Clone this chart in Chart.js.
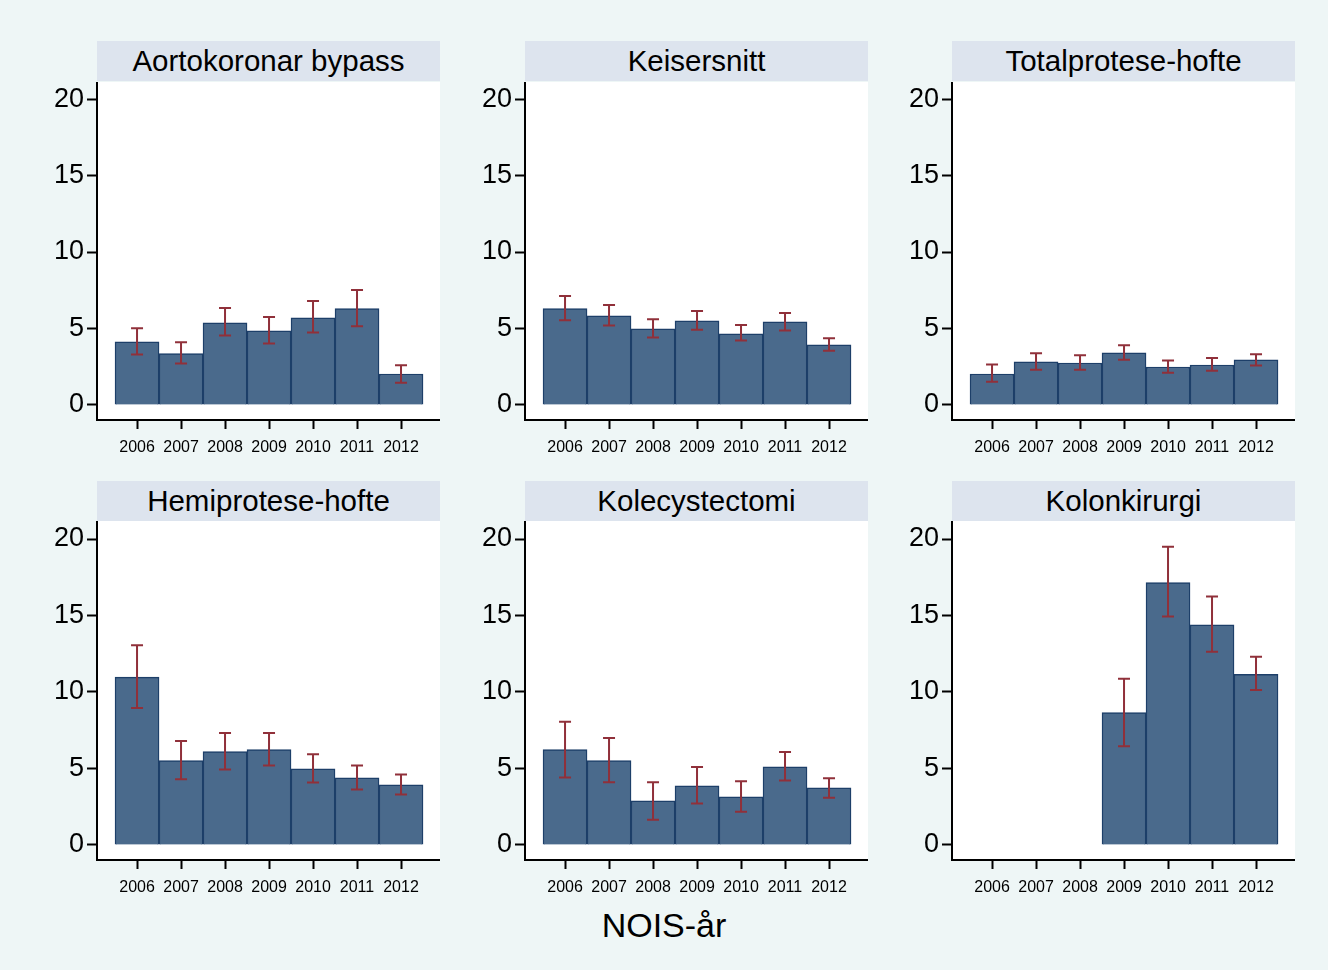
<!DOCTYPE html>
<html>
<head>
<meta charset="utf-8">
<script src="https://cdn.jsdelivr.net/npm/chart.js@4"></script>
<style>
  body { margin: 0; background: #eef6f6; font-family: "Liberation Sans", Arial, sans-serif; }
  #wrap { position: relative; width: 1328px; height: 970px; background: #eef6f6; }
  .strip { position: absolute; height: 40px; background: #dde4ee; color: #000;
           font-size: 29.5px; line-height: 40px; text-align: center; }
  .panel { position: absolute; }
  #xtitle { position: absolute; left: 0; width: 1328px; top: 906px; text-align: center; font-size: 34px; }
</style>
</head>
<body>
<div id="wrap">
  <div id="xtitle">NOIS-år</div>
</div>
<script>
// DATA
const years = [2006, 2007, 2008, 2009, 2010, 2011, 2012];
const yTicks = [0, 5, 10, 15, 20];
const titles = ["Aortokoronar bypass", "Keisersnitt", "Totalprotese-hofte",
                "Hemiprotese-hofte", "Kolecystectomi", "Kolonkirurgi"];

const bypassRate = [4.12, 3.36, 5.37, 4.84, 5.70, 6.30, 2.02];
const bypassLo   = [3.29, 2.70, 4.54, 4.01, 4.74, 5.15, 1.45];
const bypassHi   = [5.02, 4.10, 6.34, 5.75, 6.80, 7.52, 2.59];

const keiserRate = [6.30, 5.83, 4.98, 5.50, 4.65, 5.44, 3.93];
const keiserLo   = [5.53, 5.20, 4.41, 4.91, 4.21, 4.87, 3.55];
const keiserHi   = [7.13, 6.54, 5.61, 6.14, 5.22, 6.01, 4.36];

const totalRate = [2.02, 2.81, 2.74, 3.40, 2.48, 2.61, 2.94];
const totalLo   = [1.51, 2.30, 2.30, 2.96, 2.10, 2.24, 2.57];
const totalHi   = [2.65, 3.38, 3.24, 3.90, 2.91, 3.07, 3.31];

const hemiRate = [10.97, 5.51, 6.10, 6.23, 4.98, 4.39, 3.93];
const hemiLo   = [8.95, 4.30, 4.93, 5.20, 4.08, 3.62, 3.29];
const hemiHi   = [13.05, 6.80, 7.32, 7.32, 5.92, 5.20, 4.61];

const koleRate = [6.23, 5.51, 2.88, 3.86, 3.14, 5.11, 3.73];
const koleLo   = [4.41, 4.10, 1.64, 2.70, 2.17, 4.21, 3.09];
const koleHi   = [8.05, 6.99, 4.10, 5.09, 4.17, 6.07, 4.36];

const kolonRate = [null, null, null, 8.66, 17.15, 14.39, 11.16];
const kolonLo   = [null, null, null, 6.45, 14.93, 12.63, 10.13];
const kolonHi   = [null, null, null, 10.87, 19.50, 16.25, 12.30];

const panels = [
  [bypassRate, bypassLo, bypassHi],
  [keiserRate, keiserLo, keiserHi],
  [totalRate, totalLo, totalHi],
  [hemiRate, hemiLo, hemiHi],
  [koleRate, koleLo, koleHi],
  [kolonRate, kolonLo, kolonHi],
];

// LAYOUT
const plotLefts = [97, 525, 952];
const plotW = 343;
const rows = [
  { stripTop: 41, top: 82, bottom: 420, yMin: -0.987, yMax: 21.118 },
  { stripTop: 481, top: 521, bottom: 860, yMin: -0.987, yMax: 21.18 },
];
const yAxisW = 57;
const xAxisH = 45;

// feilstolper, tegnet via skalaene
const errorBars = {
  id: "errorBars",
  afterDatasetsDraw(chart, args, opts) {
    const ctx = chart.ctx;
    const xs = chart.scales.x, ys = chart.scales.y;
    ctx.save();
    ctx.strokeStyle = "#90303a";
    ctx.lineWidth = 2;
    opts.lo.forEach((lo, i) => {
      const hi = opts.hi[i];
      if (lo == null || hi == null) return;
      const x = xs.getPixelForValue(years[i]);
      const y1 = ys.getPixelForValue(lo), y2 = ys.getPixelForValue(hi);
      ctx.beginPath();
      ctx.moveTo(x, y1); ctx.lineTo(x, y2);
      ctx.moveTo(x - 6, y1); ctx.lineTo(x + 6, y1);
      ctx.moveTo(x - 6, y2); ctx.lineTo(x + 6, y2);
      ctx.stroke();
    });
    ctx.restore();
  }
};

const plotBg = {
  id: "plotBg",
  beforeDraw(chart) {
    const a = chart.chartArea;
    chart.ctx.save();
    chart.ctx.fillStyle = "#ffffff";
    chart.ctx.fillRect(a.left, a.top, a.right - a.left, a.bottom - a.top);
    chart.ctx.restore();
  }
};

const wrap = document.getElementById("wrap");

panels.forEach((p, k) => {
  const row = rows[Math.floor(k / 3)];
  const left = plotLefts[k % 3];

  const strip = document.createElement("div");
  strip.className = "strip";
  strip.style.left = left + "px";
  strip.style.top = row.stripTop + "px";
  strip.style.width = plotW + "px";
  strip.textContent = titles[k];
  wrap.appendChild(strip);

  const box = document.createElement("div");
  box.className = "panel";
  box.style.left = (left - yAxisW) + "px";
  box.style.top = row.top + "px";
  box.style.width = (yAxisW + plotW) + "px";
  box.style.height = (row.bottom - row.top + xAxisH) + "px";
  const cv = document.createElement("canvas");
  box.appendChild(cv);
  wrap.appendChild(box);

  const pts = years.map((yr, i) => ({ x: yr, y: p[0][i] })).filter(d => d.y != null);

  new Chart(cv, {
    type: "bar",
    data: {
      datasets: [{
        data: pts,
        backgroundColor: "#4a6a8c",
        borderColor: "#1d3f69",
        borderWidth: 1.5,
        barPercentage: 1,
        categoryPercentage: 1,
      }],
    },
    options: {
      responsive: true,
      maintainAspectRatio: false,
      animation: false,
      layout: { padding: 0 },
      plugins: {
        legend: { display: false },
        tooltip: { enabled: false },
        errorBars: { lo: p[1], hi: p[2] },
      },
      scales: {
        x: {
          type: "linear",
          offset: false,
          min: 2005.09,
          max: 2012.886,
          afterBuildTicks: (s) => { s.ticks = years.map(v => ({ value: v })); },
          afterFit: (s) => { s.height = xAxisH; s.paddingLeft = 0; s.paddingRight = 0; },
          grid: { offset: false, drawOnChartArea: false, tickLength: 9, tickWidth: 2, color: "#000" },
          border: { display: true, color: "#000", width: 2 },
          ticks: {
            autoSkip: false, maxRotation: 0, padding: 9,
            color: "#000", font: { family: "Liberation Sans, Arial", size: 16 },
            callback: (v) => String(v),
          },
        },
        y: {
          min: row.yMin,
          max: row.yMax,
          afterBuildTicks: (s) => { s.ticks = yTicks.map(v => ({ value: v })); },
          afterFit: (s) => { s.width = yAxisW; s.paddingTop = 0; s.paddingBottom = 0; },
          grid: { drawOnChartArea: false, tickLength: 10, tickWidth: 2, color: "#000" },
          border: { display: true, color: "#000", width: 2 },
          ticks: {
            padding: 3, color: "#000",
            font: { family: "Liberation Sans, Arial", size: 27 },
          },
        },
      },
    },
    plugins: [plotBg, errorBars],
  });
});
</script>
</body>
</html>
